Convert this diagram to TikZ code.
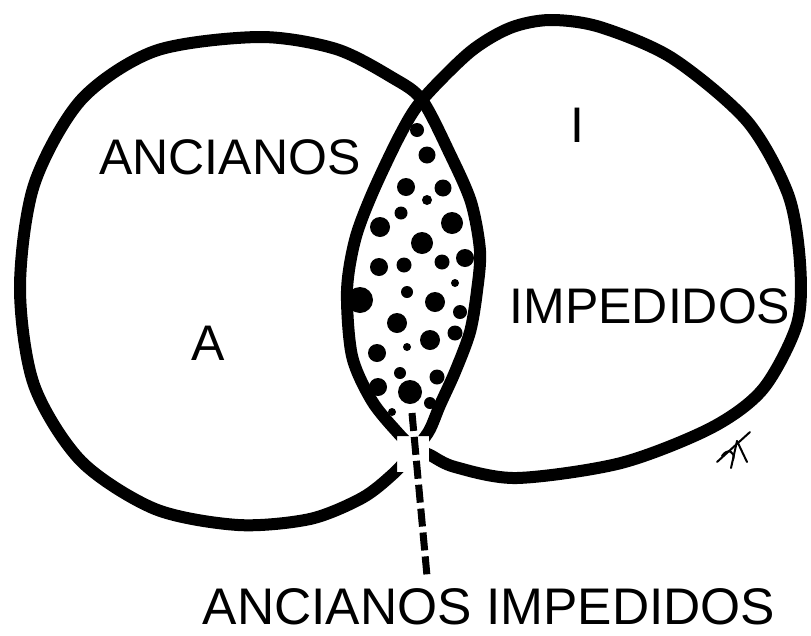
\documentclass[tikz,border=0pt]{standalone}
\usepackage{fontspec}
\setmainfont{Liberation Sans}
\usepackage{tikz}

\begin{document}
\begin{tikzpicture}[x=1pt,y=-1pt,line width=12pt,
  lab/.style={font=\fontsize{50}{60}\selectfont,inner sep=0pt}]
  \useasboundingbox (0,0) rectangle (811,635);
  \begin{scope}[even odd rule]
    \clip (0,0) rectangle (811,635) (397,436) rectangle (429,472);
    \draw plot[smooth cycle] coordinates {(259,37) (336,49) (393,78) (422,100)
      (450,154) (471,202) (480,251) (477,291) (470,332) (455,372) (440,405)
      (429,431) (413,452) (393,474) (362,498) (310,519) (238,525) (155,509)
      (81,461) (34,385) (20,288) (34,185) (81,100) (155,51)};
    \draw plot[smooth cycle] coordinates {(470,52) (510,28) (550,20) (600,27)
      (672,58) (747,121) (788,194) (800,263) (797,324) (763,389) (711,428)
      (621,463) (517,478) (455,467) (430,455) (413,447) (398,433) (372,401)
      (352,356) (347,291) (355,240) (372,194) (400,135) (422,100)};
  \end{scope}
  \foreach \x/\y/\r in {417/130/7,427/155/8.5,406/187/9,443/188/8.5,427/200/5,
    401/213/6.5,452/223/11,380/227/10,422/243/11,442/262/7.5,465/258/9,
    379/267/9,404/265/7.5,455/283/4,407/292/6,360/300/13,435/302/10,
    460/312/7,397/323/10,455/333/7.5,430/340/10,407/347/4,377/353/9,
    400/373/6,437/377/7.5,378/387/9,410/392/12,392/412/4,430/403/6}
    \fill (\x,\y) circle (\r pt);
  \node[lab] (ancianos) at (230,157) {ANCIANOS};
  \node[lab] (setA) at (208,343) {A};
  \node[lab] (setI) at (577,125) {I};
  \node[lab] (impedidos) at (650,306) {IMPEDIDOS};
  \node[lab,font=\fontsize{51.5}{60}\selectfont] (both) at (489,607) {ANCIANOS IMPEDIDOS};
  \coordinate (tipA) at (412,413);
  \coordinate (tipB) at (427,576);
  \draw[line width=7pt,dash pattern=on 18pt off 6pt] (tipA) -- (tipB);
  \begin{scope}[line width=2pt,line cap=round]
    \draw (717,462) -- (750,432);
    \draw (737,441) -- (731,468);
    \draw (737,441) -- (747,462);
    \draw (722,456) .. controls (727,448) and (736,451) .. (733,460);
  \end{scope}
\end{tikzpicture}
\end{document}
